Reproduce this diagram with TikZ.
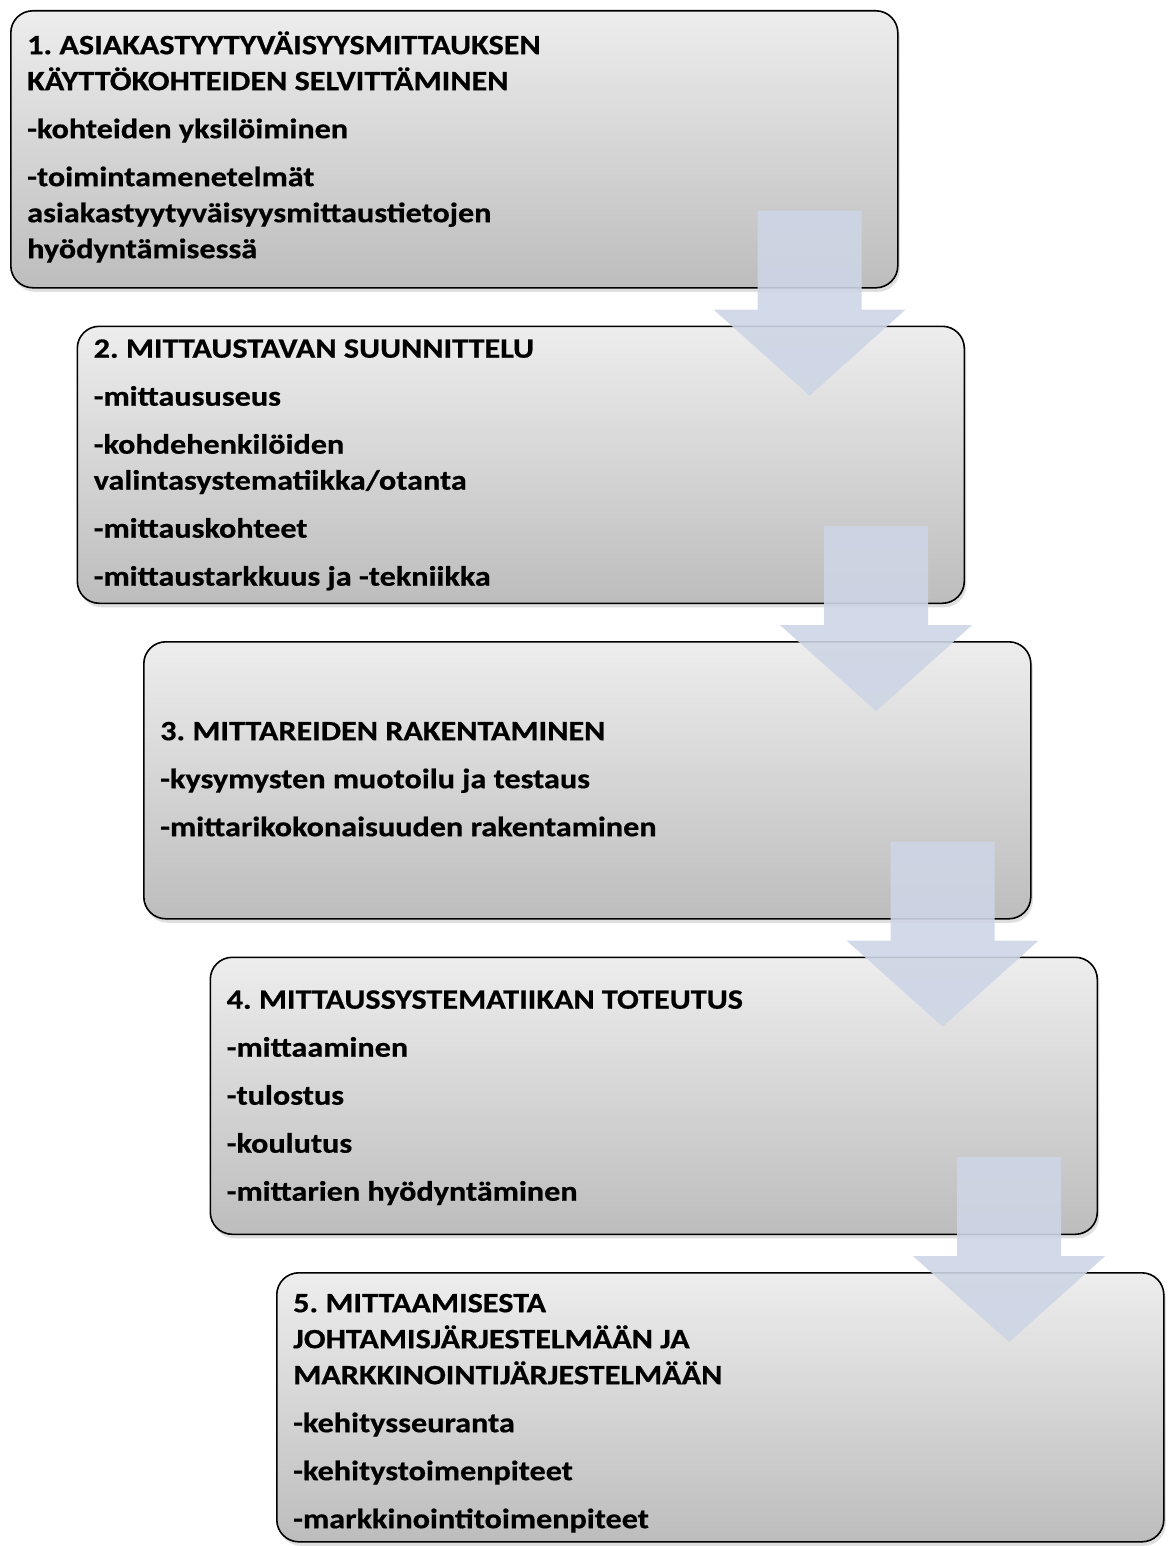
\documentclass[tikz,border=0pt]{standalone}
\usepackage{fontspec}
\setmainfont{Carlito}[FakeStretch=1.15, BoldFeatures={FakeBold=0.6}]
\usetikzlibrary{calc,shadows}
\frenchspacing

\definecolor{arrowblue}{RGB}{205,213,229}

\tikzset{
  stepbox/.style={draw=black, line width=1.6pt, rounded corners=22pt,
    top color=black!7, bottom color=black!26, anchor=north west,
    minimum width=887pt, minimum height=277pt, inner sep=0pt,
    drop shadow={shadow xshift=2pt, shadow yshift=-4pt, opacity=0.25}},
  steptext/.style={anchor=north west, inner sep=0pt, align=left,
    font=\bfseries\fontsize{28}{36}\selectfont},
  flowarrow/.style={fill=arrowblue, fill opacity=0.9}
}

% block arrow hanging below the right part of a box
\newcommand{\downflow}[1]{%
  \fill[flowarrow] ($(#1.south east)+(-141,78)$) -- ++(104,0) -- ++(0,-99)
    -- ++(44,0) -- ($(#1.south east)+(-89,-107)$)
    -- ($(#1.south east)+(-185,-21)$) -- ++(44,0) -- cycle;
}

\begin{document}
\begin{tikzpicture}[x=1pt,y=1pt]
	\useasboundingbox (0,0) rectangle (1170,-1546);

	% Draw Boxes
	\node[stepbox] (b1) at (10,-10) {};
	\node[stepbox] (b2) at (76.5,-325.5) {};
	\node[stepbox] (b3) at (143,-641) {};
	\node[stepbox] (b4) at (209.5,-956.5) {};
	\node[stepbox, minimum height=269pt] (b5) at (276,-1272) {};

	% Box texts
	\node[steptext] (t1) at ($(b1.north west)+(17,-18.8)$)
		{\strut 1. ASIAKASTYYTYVÄISYYSMITTAUKSEN\\ KÄYTTÖKOHTEIDEN SELVITTÄMINEN\\[12pt]
		 -kohteiden yksilöiminen\\[12pt]
		 -toimintamenetelmät\\ asiakastyytyväisyysmittaustietojen\\ hyödyntämisessä};
	\node[steptext] (t2) at ($(b2.north west)+(17,-6.8)$)
		{\strut 2. MITTAUSTAVAN SUUNNITTELU\\[12pt]
		 -mittaususeus\\[12pt]
		 -kohdehenkilöiden\\ valintasystematiikka/otanta\\[12pt]
		 -mittauskohteet\\[12pt]
		 -mittaustarkkuus ja -tekniikka};
	\node[steptext] (t3) at ($(b3.north west)+(17,-73.8)$)
		{\strut 3. MITTAREIDEN RAKENTAMINEN\\[12pt]
		 -kysymysten muotoilu ja testaus\\[12pt]
		 -mittarikokonaisuuden rakentaminen};
	\node[steptext] (t4) at ($(b4.north west)+(17,-26.8)$)
		{\strut 4. MITTAUSSYSTEMATIIKAN TOTEUTUS\\[12pt]
		 -mittaaminen\\[12pt]
		 -tulostus\\[12pt]
		 -koulutus\\[12pt]
		 -mittarien hyödyntäminen};
	\node[steptext] (t5) at ($(b5.north west)+(17,-14.8)$)
		{\strut 5. MITTAAMISESTA\\ JOHTAMISJÄRJESTELMÄÄN JA\\ MARKKINOINTIJÄRJESTELMÄÄN\\[12pt]
		 -kehitysseuranta\\[12pt]
		 -kehitystoimenpiteet\\[12pt]
		 -markkinointitoimenpiteet};

	% Draw Arrows
	\foreach \b in {b1,b2,b3,b4} {
		\downflow{\b}
	}
\end{tikzpicture}
\end{document}
